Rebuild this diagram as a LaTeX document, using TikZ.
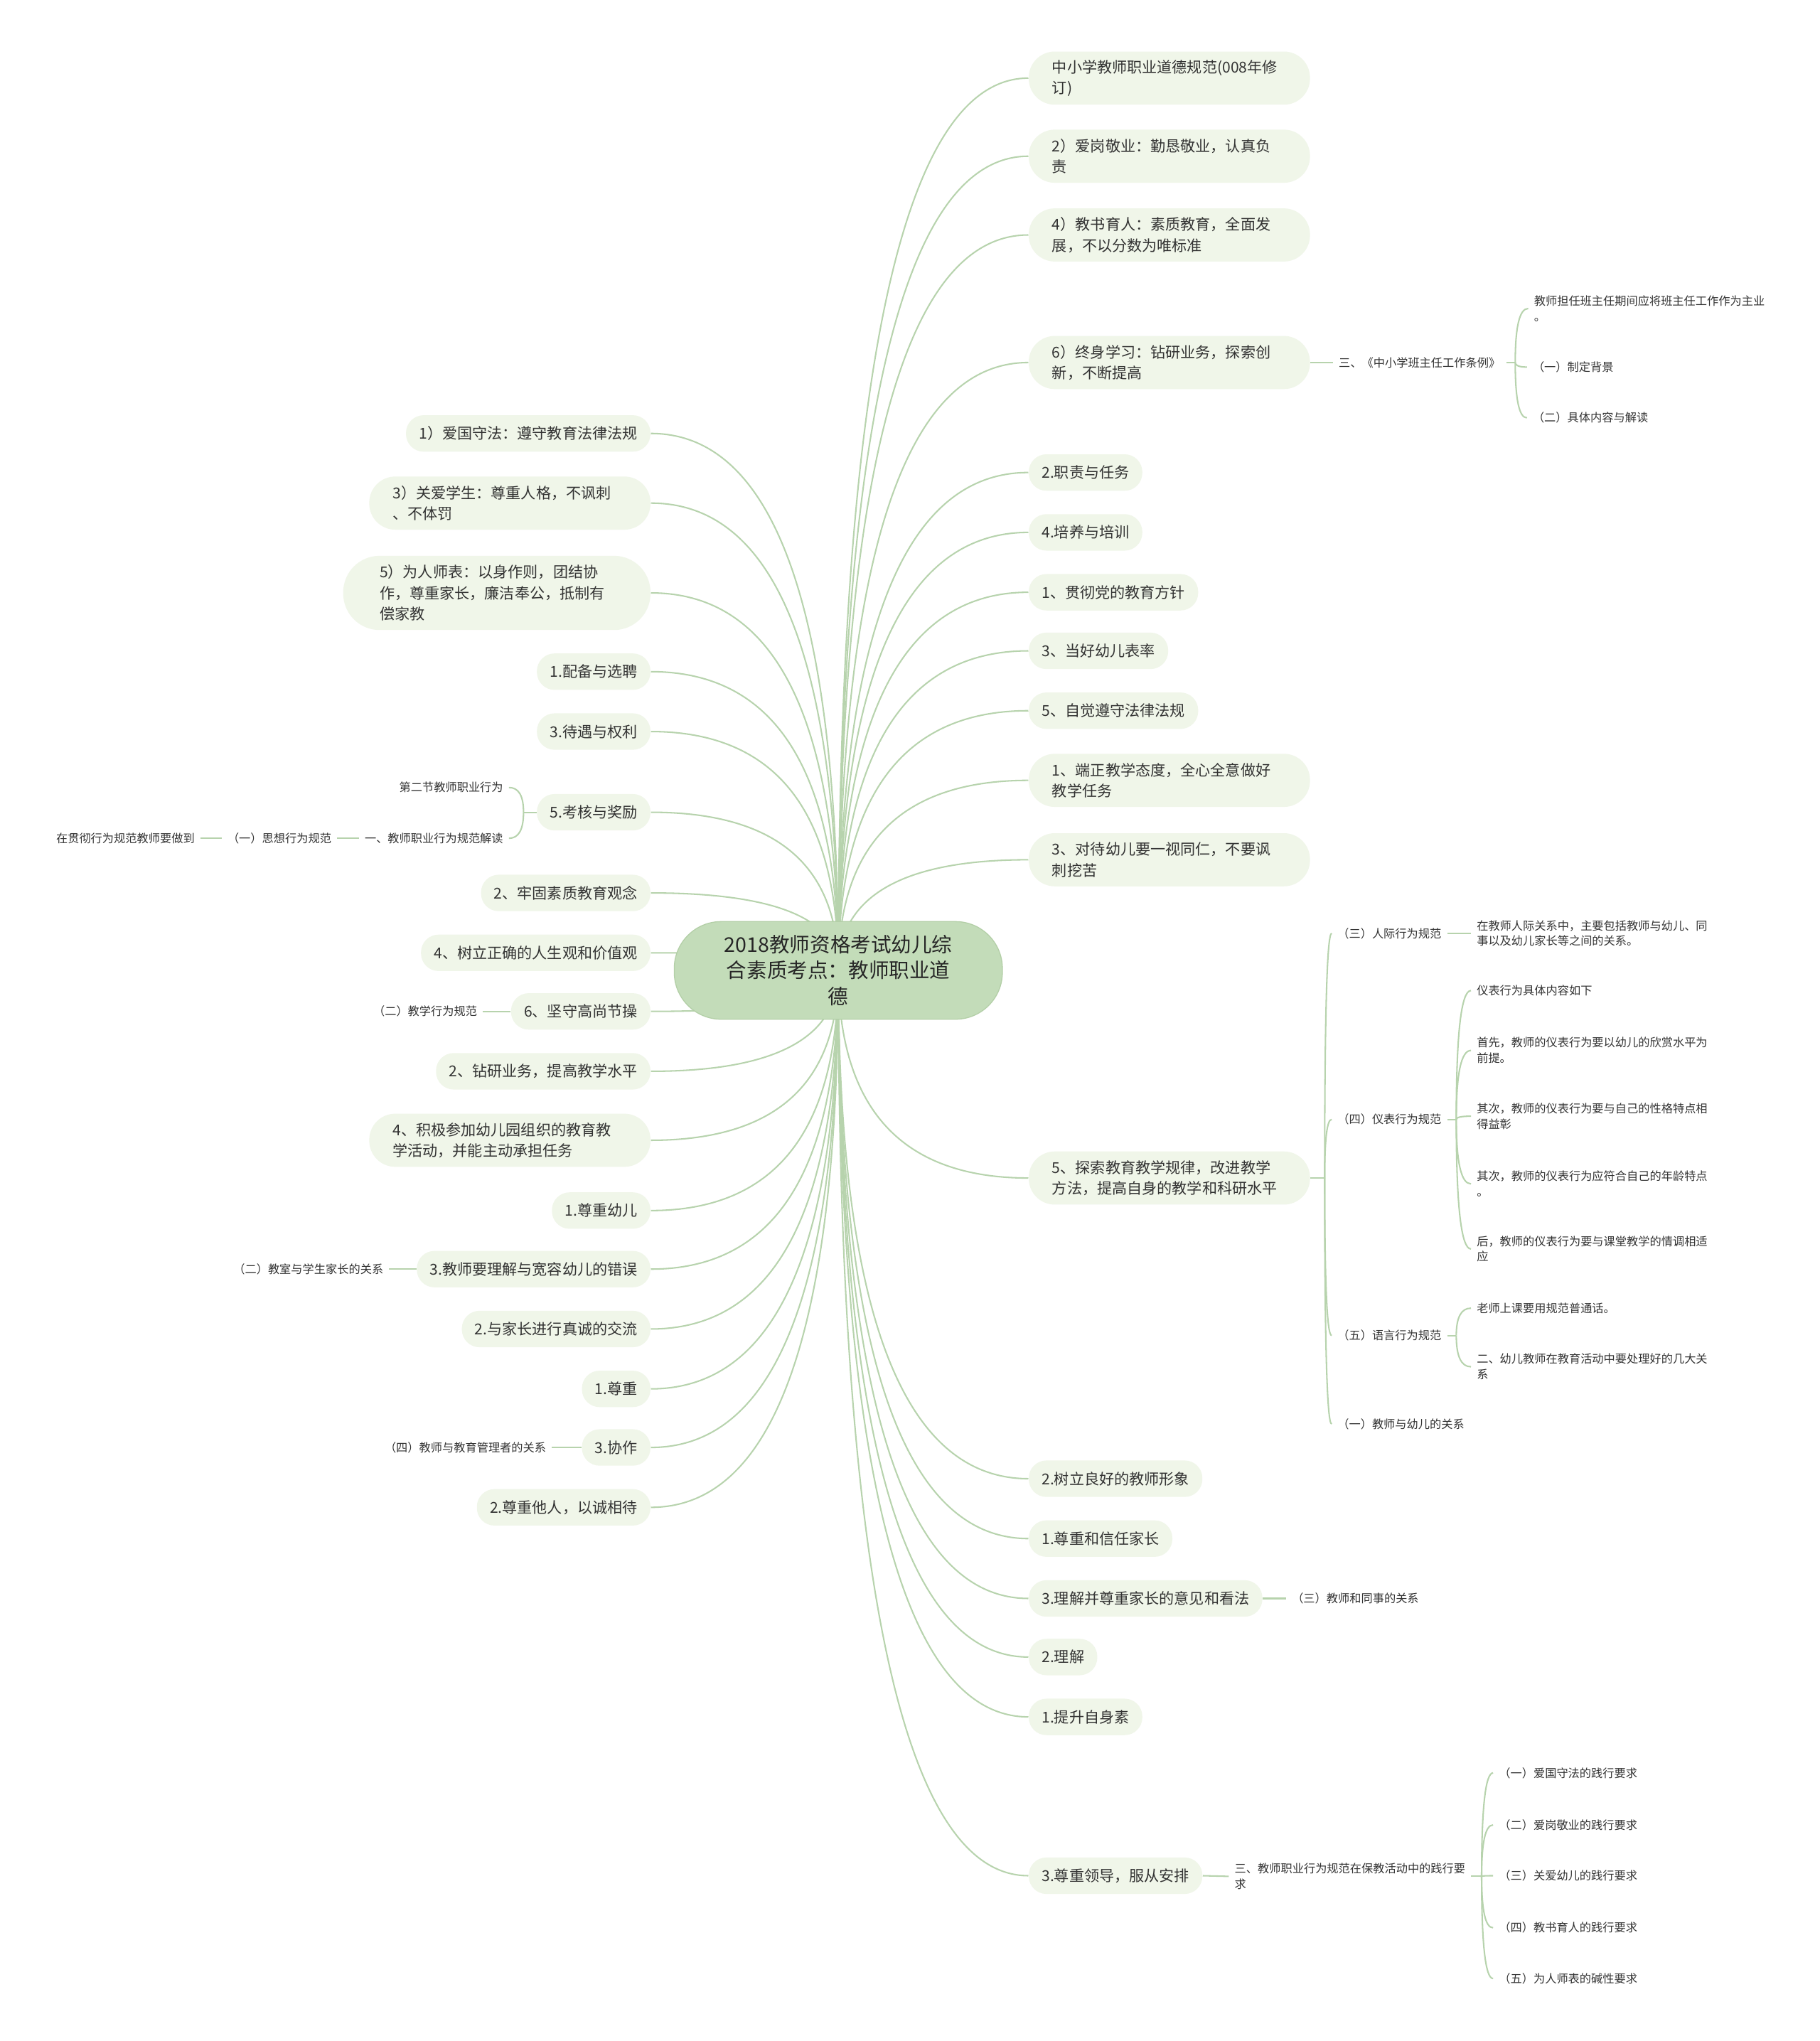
\documentclass[tikz,border=0pt]{standalone}
\usepackage{fontspec}
\setmainfont{Noto Sans CJK SC}
\usetikzlibrary{calc,backgrounds}

\definecolor{rootfill}{HTML}{C3DCB9}
\definecolor{rootline}{HTML}{B3CFA7}
\definecolor{leaffill}{HTML}{F0F6E9}
\definecolor{linkcol}{HTML}{B7D3AD}
\definecolor{txtcol}{HTML}{333333}

\newcommand{\mainsize}{\fontsize{8.2}{11.4}\selectfont}
\newcommand{\notesize}{\fontsize{6.3}{8.5}\selectfont}
\newcommand{\rootsize}{\fontsize{11.1}{14.2}\selectfont}

\tikzset{
  rootbox/.style={fill=rootfill, draw=rootline, line width=0.5pt, rounded corners=0.9cm,
    text width=4.6cm, align=center, minimum width=6.3cm, minimum height=1.875cm,
    inner sep=0pt, font=\rootsize, text=black!85},
  leafbox/.style={fill=leaffill, rounded corners=0.34cm, minimum height=0.7cm,
    inner xsep=0.25cm, inner ysep=0pt, font=\mainsize, text=txtcol},
  widebox/.style={leafbox, text width=4.5cm, align=left, inner xsep=0.45cm,
    minimum height=1.02cm, rounded corners=0.5cm},
  tallbox/.style={widebox, inner xsep=0.7cm, minimum height=1.425cm, rounded corners=0.7cm},
  notetext/.style={inner xsep=3pt, inner ysep=1pt, font=\notesize, text=txtcol, align=left},
  linkline/.style={draw=linkcol, line width=0.8pt},
  swoop/.style={to path={.. controls ($(\tikztostart)!2/3!(\tikztostart |- \tikztotarget)$)
    and ($(\tikztotarget)!2/3!(\tikztostart |- \tikztotarget)$) .. (\tikztotarget)}}
}

\begin{document}
\begin{tikzpicture}[x=0.025cm, y=-0.025cm]
  \useasboundingbox (0,0) rectangle (1398,1568);

  % centre
  \node[rootbox] (ctr) at (644,745.5) {2018教师资格考试幼儿综\\合素质考点：教师职业道\\德};

  % right branches
  \node[widebox, anchor=west] (r1) at (790,60) {中小学教师职业道德规范(008年修\\订)};
  \node[widebox, anchor=west] (r2) at (790,120) {2）爱岗敬业：勤恳敬业，认真负\\责};
  \node[widebox, anchor=west] (r3) at (790,180.5) {4）教书育人：素质教育，全面发\\展，不以分数为唯标准};
  \node[widebox, anchor=west] (r4) at (790,278.5) {6）终身学习：钻研业务，探索创\\新，不断提高};
  \node[leafbox, anchor=west] (r5) at (790,363) {2.职责与任务};
  \node[leafbox, anchor=west] (r6) at (790,409) {4.培养与培训};
  \node[leafbox, anchor=west] (r7) at (790,455) {1、贯彻党的教育方针};
  \node[leafbox, anchor=west] (r8) at (790,500) {3、当好幼儿表率};
  \node[leafbox, anchor=west] (r9) at (790,546) {5、自觉遵守法律法规};
  \node[widebox, anchor=west] (r10) at (790,599.5) {1、端正教学态度，全心全意做好\\教学任务};
  \node[widebox, anchor=west] (r11) at (790,660.5) {3、对待幼儿要一视同仁，不要讽\\刺挖苦};
  \node[widebox, anchor=west] (r12) at (790,905) {5、探索教育教学规律，改进教学\\方法，提高自身的教学和科研水平};
  \node[leafbox, anchor=west] (r13) at (790,1136) {2.树立良好的教师形象};
  \node[leafbox, anchor=west] (r14) at (790,1182) {1.尊重和信任家长};
  \node[leafbox, anchor=west] (r15) at (790,1228) {3.理解并尊重家长的意见和看法};
  \node[leafbox, anchor=west] (r16) at (790,1273) {2.理解};
  \node[leafbox, anchor=west] (r17) at (790,1319) {1.提升自身素};
  \node[leafbox, anchor=west] (r18) at (790,1441) {3.尊重领导，服从安排};

  % left branches
  \node[leafbox, anchor=east] (l1) at (500,333) {1）爱国守法：遵守教育法律法规};
  \node[widebox, anchor=east] (l2) at (500,386.5) {3）关爱学生：尊重人格，不讽刺\\、不体罚};
  \node[tallbox, anchor=east] (l3) at (500,455.5) {5）为人师表：以身作则，团结协\\作，尊重家长，廉洁奉公，抵制有\\偿家教};
  \node[leafbox, anchor=east] (l4) at (500,516) {1.配备与选聘};
  \node[leafbox, anchor=east] (l5) at (500,562) {3.待遇与权利};
  \node[leafbox, anchor=east] (l6) at (500,624) {5.考核与奖励};
  \node[leafbox, anchor=east] (l7) at (500,686) {2、牢固素质教育观念};
  \node[leafbox, anchor=east] (l8) at (500,732) {4、树立正确的人生观和价值观};
  \node[leafbox, anchor=east] (l9) at (500,777) {6、坚守高尚节操};
  \node[leafbox, anchor=east] (l10) at (500,823) {2、钻研业务，提高教学水平};
  \node[widebox, anchor=east] (l11) at (500,876) {4、积极参加幼儿园组织的教育教\\学活动，并能主动承担任务};
  \node[leafbox, anchor=east] (l12) at (500,930) {1.尊重幼儿};
  \node[leafbox, anchor=east] (l13) at (500,975) {3.教师要理解与宽容幼儿的错误};
  \node[leafbox, anchor=east] (l14) at (500,1021) {2.与家长进行真诚的交流};
  \node[leafbox, anchor=east] (l15) at (500,1067) {1.尊重};
  \node[leafbox, anchor=east] (l16) at (500,1112) {3.协作};
  \node[leafbox, anchor=east] (l17) at (500,1158) {2.尊重他人，以诚相待};

  % left notes
  \node[notetext, anchor=east] (g6a) at (391,605) {第二节教师职业行为};
  \node[notetext, anchor=east] (g6b) at (391,644) {一、教师职业行为规范解读};
  \node[notetext, anchor=east] (g6c) at (259,644) {（一）思想行为规范};
  \node[notetext, anchor=east] (g6d) at (154,644) {在贯彻行为规范教师要做到};
  \node[notetext, anchor=east] (g9) at (371,777) {（二）教学行为规范};
  \node[notetext, anchor=east] (g13) at (299,975) {（二）教室与学生家长的关系};
  \node[notetext, anchor=east] (g16) at (424,1112) {（四）教师与教育管理者的关系};

  % right notes
  \node[notetext, anchor=west] (g4) at (1024,278.5) {三、《中小学班主任工作条例》};
  \node[notetext, anchor=west] (g4a) at (1174,237) {教师担任班主任期间应将班主任工作作为主业\\。};
  \node[notetext, anchor=west] (g4b) at (1173,282) {（一）制定背景};
  \node[notetext, anchor=west] (g4c) at (1173,321) {（二）具体内容与解读};

  \node[notetext, anchor=west] (g12a) at (1023,717) {（三）人际行为规范};
  \node[notetext, anchor=west] (g12b) at (1023,860) {（四）仪表行为规范};
  \node[notetext, anchor=west] (g12c) at (1023,1026) {（五）语言行为规范};
  \node[notetext, anchor=west] (g12d) at (1023,1094) {（一）教师与幼儿的关系};
  \node[notetext, anchor=west] (g12a1) at (1130,717) {在教师人际关系中，主要包括教师与幼儿、同\\事以及幼儿家长等之间的关系。};
  \node[notetext, anchor=west] (g12b1) at (1130,761) {仪表行为具体内容如下};
  \node[notetext, anchor=west] (g12b2) at (1130,807) {首先，教师的仪表行为要以幼儿的欣赏水平为\\前提。};
  \node[notetext, anchor=west] (g12b3) at (1130,857.5) {其次，教师的仪表行为要与自己的性格特点相\\得益彰};
  \node[notetext, anchor=west] (g12b4) at (1130,909.5) {其次，教师的仪表行为应符合自己的年龄特点\\。};
  \node[notetext, anchor=west] (g12b5) at (1130,959.5) {后，教师的仪表行为要与课堂教学的情调相适\\应};
  \node[notetext, anchor=west] (g12c1) at (1130,1005) {老师上课要用规范普通话。};
  \node[notetext, anchor=west] (g12c2) at (1130,1050) {二、幼儿教师在教育活动中要处理好的几大关\\系};

  \node[notetext, anchor=west] (g15) at (988,1228) {（三）教师和同事的关系};

  \node[notetext, anchor=west] (g18) at (944,1441.5) {三、教师职业行为规范在保教活动中的践行要\\求};
  \node[notetext, anchor=west] (g18a) at (1147,1362) {（一）爱国守法的践行要求};
  \node[notetext, anchor=west] (g18b) at (1147,1402) {（二）爱岗敬业的践行要求};
  \node[notetext, anchor=west] (g18c) at (1147,1441) {（三）关爱幼儿的践行要求};
  \node[notetext, anchor=west] (g18d) at (1147,1481) {（四）教书育人的践行要求};
  \node[notetext, anchor=west] (g18e) at (1147,1520) {（五）为人师表的碱性要求};

  % bracket joints
  \coordinate (j6) at ($(l6.west)+(-10,0)$);
  \coordinate (j4) at ($(g4.east)+(7,0)$);
  \coordinate (j12) at ($(r12.east)+(11,0)$);
  \coordinate (j12b) at ($(g12b.east)+(7,0)$);
  \coordinate (j12c) at ($(g12c.east)+(7,0)$);
  \coordinate (j18) at ($(g18.east)+(8,0)$);

  \begin{scope}[on background layer]
    \fill[white] (0,0) rectangle (1398,1568);
    \foreach \i in {1,...,18}
      \draw[linkline] (ctr.center) to[swoop] (r\i.west);
    \foreach \i in {1,...,17}
      \draw[linkline] (ctr.center) to[swoop] (l\i.east);

    % left side
    \draw[linkline] (l6.west) -- (j6);
    \foreach \c in {g6a,g6b}
      \draw[linkline] (j6) to[swoop] (\c.east);
    \draw[linkline] (g6b.west) -- (g6c.east);
    \draw[linkline] (g6c.west) -- (g6d.east);
    \draw[linkline] (l9.west) -- (g9.east);
    \draw[linkline] (l13.west) -- (g13.east);
    \draw[linkline] (l16.west) -- (g16.east);

    % right side
    \draw[linkline] (r4.east) -- (g4.west);
    \draw[linkline] (g4.east) -- (j4);
    \foreach \c in {g4a,g4b,g4c}
      \draw[linkline] (j4) to[swoop] (\c.west);

    \draw[linkline] (r12.east) -- (j12);
    \foreach \c in {g12a,g12b,g12c,g12d}
      \draw[linkline] (j12) to[swoop] (\c.west);
    \draw[linkline] (g12a.east) -- (g12a1.west);
    \draw[linkline] (g12b.east) -- (j12b);
    \foreach \c in {g12b1,g12b2,g12b3,g12b4,g12b5}
      \draw[linkline] (j12b) to[swoop] (\c.west);
    \draw[linkline] (g12c.east) -- (j12c);
    \foreach \c in {g12c1,g12c2}
      \draw[linkline] (j12c) to[swoop] (\c.west);

    \draw[linkline] (r15.east) -- (g15.west);

    \draw[linkline] (r18.east) -- (g18.west);
    \draw[linkline] (g18.east) -- (j18);
    \foreach \c in {g18a,g18b,g18c,g18d,g18e}
      \draw[linkline] (j18) to[swoop] (\c.west);
  \end{scope}
\end{tikzpicture}
\end{document}
